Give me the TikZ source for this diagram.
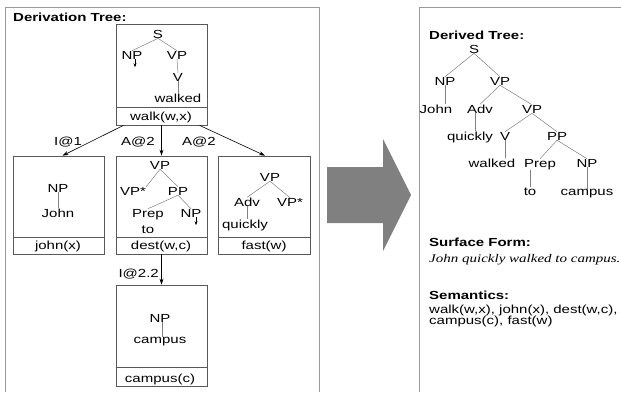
\documentclass[tikz,border=0pt]{standalone}
\usepackage{fontspec}
\usepackage{graphicx}
\setmainfont{Liberation Sans}
\newfontfamily\timesit{Liberation Serif}
\usetikzlibrary{arrows.meta}
% text is set slightly condensed vertically
\newcommand\sq[1]{\scalebox{1}[0.78]{#1}}
\tikzset{
  lbl/.style={inner sep=0pt, anchor=base, font=\fontsize{15}{15}\selectfont},
  lblw/.style={inner sep=0pt, anchor=base west, font=\fontsize{15}{15}\selectfont},
  ttl/.style={inner sep=0pt, anchor=base west, font=\fontsize{15}{15}\selectfont\bfseries},
  panel/.style={draw=black!40, line width=0.8pt},
  elbox/.style={draw=black!65, line width=0.7pt, inner sep=0pt, minimum width=91pt},
  sepline/.style={draw=black!65, line width=0.7pt},
  branch/.style={draw=black!50, line width=0.5pt},
  deriv/.style={draw=black, line width=0.6pt, -{Stealth[length=6pt,width=4pt]}},
  foot/.style={draw=black, line width=0.5pt, -{Stealth[length=4pt,width=3pt]}}
}
\begin{document}
\begin{tikzpicture}[x=1pt,y=-1pt]
\useasboundingbox (0,0) rectangle (621,392);

% panels
\draw[panel] (5,392) -- (5,7) -- (319,7) -- (319,392);
\draw[panel] (419,392) -- (419,7) -- (621,7);
\node[ttl] (dtitle) at (13,21) {\sq{Derivation Tree:}};

% elementary tree boxes
\node[elbox, minimum height=101pt] (walkbox) at (161.5,74.5) {};
\node[elbox, minimum height=98pt] (johnbox) at (58.5,205) {};
\node[elbox, minimum height=98pt] (destbox) at (161.5,205) {};
\node[elbox, minimum height=98pt, minimum width=92pt] (fastbox) at (264,205) {};
\node[elbox, minimum height=101pt] (campbox) at (161.5,335.5) {};
\foreach \b/\h in {walkbox/18, johnbox/17, destbox/17, fastbox/17, campbox/19}
  \draw[sepline] ([yshift=\h pt]\b.south west) -- ([yshift=\h pt]\b.south east);

% walk(w,x)
\node[lbl] (wS) at (158,38) {\sq{S}};
\node[lbl] (wNP) at (132,59) {\sq{NP}};
\node[lbl] (wVP) at (177,59) {\sq{VP}};
\node[lbl] (wV) at (178,81) {\sq{V}};
\node[lbl] (wwalked) at (178,102) {\sq{walked}};
\node[lbl] (wsem) at (161,120) {\sq{walk(w,x)}};
\draw[branch] (wS.south) -- (wNP.north);
\draw[branch] (wS.south) -- (wVP.north);
\draw[branch] (wVP.south) -- (wV.north);
\draw[branch] (wV.south) -- (wwalked.north);
\draw[foot] ([xshift=3pt]wNP.south) -- ++(0,8);

% john(x)
\node[lbl] (jNP) at (58,192) {\sq{NP}};
\node[lbl] (jJohn) at (58,217) {\sq{John}};
\node[lbl] (jsem) at (58,249) {\sq{john(x)}};
\draw[branch] (jNP.south) -- (jJohn.north);

% dest(w,c)
\node[lbl] (dVP) at (160,169) {\sq{VP}};
\node[lbl] (dVPs) at (133,195) {\sq{VP*}};
\node[lbl] (dPP) at (178,195) {\sq{PP}};
\node[lbl] (dPrep) at (148,217) {\sq{Prep}};
\node[lbl] (dNP) at (191,217) {\sq{NP}};
\node[lbl] (dto) at (148,233) {\sq{to}};
\node[lbl] (dsem) at (161,249) {\sq{dest(w,c)}};
\draw[branch] (dVP.south) -- (dVPs.north east);
\draw[branch] (dVP.south) -- (dPP.north);
\draw[branch] (dPP.south) -- (dPrep.north);
\draw[branch] (dPP.south) -- (dNP.north);
\draw[foot] ([xshift=5pt]dNP.south) -- ++(0,8);

% fast(w)
\node[lbl] (fVP) at (270,181) {\sq{VP}};
\node[lbl] (fAdv) at (247,206) {\sq{Adv}};
\node[lbl] (fVPs) at (290,206) {\sq{VP*}};
\node[lbl] (fquickly) at (245,228) {\sq{quickly}};
\node[lbl] (fsem) at (264,249) {\sq{fast(w)}};
\draw[branch] (fVP.south) -- (fAdv.north);
\draw[branch] (fVP.south) -- (fVPs.north);
\draw[branch] (fAdv.south) -- (fAdv.south |- fquickly.north);

% campus(c)
\node[lbl] (cNP) at (160,322) {\sq{NP}};
\node[lbl] (ccampus) at (160,343) {\sq{campus}};
\node[lbl] (csem) at (160,382) {\sq{campus(c)}};
\draw[branch] ([xshift=2pt]cNP.south) -- ([xshift=2pt]cNP.south |- ccampus.north);

% derivation edges
\draw[deriv] ([xshift=-38pt]walkbox.south) -- ([xshift=4pt]johnbox.north);
\draw[deriv] (walkbox.south) -- (destbox.north);
\draw[deriv] ([xshift=38pt]walkbox.south) -- ([xshift=1pt]fastbox.north);
\draw[deriv] (destbox.south) -- (campbox.north);
\node[lbl] (l1) at (68,145) {\sq{I@1}};
\node[lbl] (l2) at (138,145) {\sq{A@2}};
\node[lbl] (l3) at (199,145) {\sq{A@2}};
\node[lbl, anchor=base east] (l4) at (159,277) {\sq{I@2.2}};

% combination arrow
\fill[black!50] (327,167) -- (383,167) -- (383,139) -- (411,195) -- (383,251) -- (383,223) -- (327,223) -- cycle;

% derived tree
\node[ttl] (rtitle) at (429,39) {\sq{Derived Tree:}};
\node[lbl] (tS) at (474,53) {\sq{S}};
\node[lbl] (tNP) at (445,85) {\sq{NP}};
\node[lbl] (tVP) at (500,85) {\sq{VP}};
\node[lbl] (tJohn) at (436,113) {\sq{John}};
\node[lbl] (tAdv) at (480,113) {\sq{Adv}};
\node[lbl] (tVPb) at (532,113) {\sq{VP}};
\node[lbl] (tquickly) at (470,140) {\sq{quickly}};
\node[lbl] (tV) at (505,140) {\sq{V}};
\node[lbl] (tPP) at (557,140) {\sq{PP}};
\node[lbl] (twalked) at (492,167) {\sq{walked}};
\node[lbl] (tPrep) at (540,167) {\sq{Prep}};
\node[lbl] (tNPb) at (587,167) {\sq{NP}};
\node[lbl] (tto) at (530,195) {\sq{to}};
\node[lbl] (tcampus) at (587,195) {\sq{campus}};
\draw[branch] (tS.south) -- (tNP.north);
\draw[branch] (tS.south) -- (tVP.north);
\draw[branch] (tNP.south) -- (tNP.south |- tJohn.north);
\draw[branch] (tVP.south) -- (tAdv.north);
\draw[branch] (tVP.south) -- (tVPb.north);
\draw[branch] ([xshift=-5pt]tAdv.south) -- ([xshift=-5pt]tAdv.south |- tquickly.north);
\draw[branch] (tVPb.south) -- (tV.north);
\draw[branch] (tVPb.south) -- (tPP.north);
\draw[branch] (tV.south) -- (tV.south |- twalked.north);
\draw[branch] (tPP.south) -- (tPrep.north);
\draw[branch] (tPP.south) -- (tNPb.north);
\draw[branch] ([xshift=-10pt]tPrep.south) -- ([xshift=-10pt]tPrep.south |- tto.north);
\draw[branch] (tNPb.south) -- (tNPb.south |- tcampus.north);

% surface form and semantics
\node[ttl] (sftitle) at (429,246) {\sq{Surface Form:}};
\node[lblw, font=\fontsize{15}{15}\timesit\itshape] (sf) at (429,262) {\sq{John quickly walked to campus.}};
\node[ttl] (semtitle) at (429,299) {\sq{Semantics:}};
\node[lblw] (sem1) at (429,313) {\sq{walk(w,x), john(x), dest(w,c),}};
\node[lblw] (sem2) at (429,324) {\sq{campus(c), fast(w)}};
\end{tikzpicture}
\end{document}
